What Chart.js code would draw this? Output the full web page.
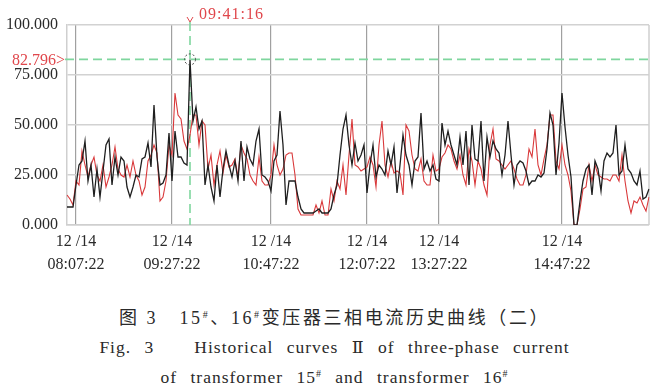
<!DOCTYPE html>
<html>
<head>
<meta charset="utf-8">
<script src="https://cdn.jsdelivr.net/npm/chart.js@4/dist/chart.umd.min.js"></script>
<style>
  html, body { margin: 0; padding: 0; background: #fff; }
  #wrap { position: relative; width: 669px; height: 391px; overflow: hidden; }
  #chart { position: absolute; left: 0; top: 0; }
  .cap {
    position: absolute; left: 0; width: 669px; text-align: center;
    font-family: "Liberation Serif", "Times New Roman", Times, "DejaVu Serif", "Noto Sans CJK SC", serif;
    font-size: 17px; line-height: 20px; color: #2a2a2a; white-space: nowrap;
  }
  .cap sup { font-size: 10px; vertical-align: 6px; line-height: 0; }
  .zh { font-size: 18px; letter-spacing: 2.6px; }
  .en { font-size: 17.5px; letter-spacing: 1px; word-spacing: 8px; }
</style>
</head>
<body>
<div id="wrap">
  <canvas id="chart" width="669" height="282"></canvas>
  <div class="cap zh" style="top:308px;">图 3&nbsp;&nbsp;&nbsp;15<sup>#</sup>、16<sup>#</sup>变压器三相电流历史曲线（二）</div>
  <div class="cap en" style="top:337px;">Fig. 3&nbsp;&nbsp; Historical curves Ⅱ of three-phase current</div>
  <div class="cap en" style="top:367px;">of transformer 15<sup>#</sup> and transformer 16<sup>#</sup></div>
</div>
<script>
// transformer 15# (black) and 16# (red) current samples
const current15 = [
  9, 9, 9, 20, 30, 32, 42, 22, 30, 14, 28, 14, 27, 40, 43, 20, 34, 25, 34, 32,
  19, 14, 19, 25, 24, 33, 34, 41, 29, 60, 34, 20,
  21, 25, 46, 22, 47, 34, 34, 31, 30, 82.796, 52, 59, 48, 52, 20, 30, 19, 12,
  30, 14, 28, 37, 30, 24, 32, 22, 42, 22, 39, 33, 30, 42, 48,
  25, 24, 22, 17, 32, 35, 57, 40, 10, 22, 22, 22, 14, 8, 6, 6, 6, 6, 7, 8,
  6, 6, 6, 8, 15, 20, 35, 48, 55, 40, 30, 41,
  32, 35, 40, 16, 30, 40, 24, 30, 28, 25, 37, 30, 39, 16, 30, 45, 35, 30, 20, 32,
  34, 56, 28, 32, 27, 30, 23, 22, 51, 40, 47, 40, 35,
  30, 44, 30, 47, 20, 50, 33, 32, 52, 22, 44, 34, 42, 38, 36, 25, 35, 52, 35, 20,
  30, 32, 31, 27, 20, 22, 22, 25, 24, 26, 38, 56, 50,
  25, 41, 66, 49, 35, 24, 0, 0, 12, 22, 28, 30, 15, 32, 28, 17, 32, 36, 34, 36,
  50, 25, 27, 40, 28, 26, 22, 20, 27, 13, 14, 18
];
const current16 = [
  15, 13, 10, 22, 20, 37, 30, 24, 30, 34, 25, 22, 30, 19, 24, 30, 39, 28, 25, 24,
  30, 24, 32, 25, 22, 15, 19, 32, 35, 40, 36, 12,
  14, 22, 40, 35, 66, 55, 53, 42, 38, 45, 55, 55, 40, 52, 50, 28, 35, 20, 30, 37,
  26, 35, 29, 30, 33, 24, 40, 36, 33, 25, 22, 20, 34,
  22, 20, 20, 25, 40, 30, 25, 28, 35, 36, 36, 25, 8, 5, 5, 5, 5, 5, 10, 6,
  12, 5, 5, 18, 12, 22, 18, 30, 15, 35, 53, 30,
  29, 27, 28, 29, 34, 30, 19, 40, 52, 30, 24, 32, 26, 27, 26, 15, 50, 47, 35, 28,
  27, 33, 22, 20, 20, 35, 27, 28, 34, 36, 40, 38, 32,
  28, 35, 25, 20, 38, 32, 20, 32, 28, 20, 15, 40, 48, 33, 32, 30, 28, 30, 32, 28,
  23, 20, 20, 25, 38, 34, 48, 30, 25, 33, 40, 55, 55,
  32, 28, 40, 30, 25, 17, 0, 0, 8, 18, 19, 30, 22, 30, 25, 24, 23, 23, 22, 25,
  25, 22, 35, 22, 12, 6, 12, 11, 14, 10, 7, 14
];

// time axis labels and the sample they sit on
const tickDates = ['12 /14', '12 /14', '12 /14', '12 /14', '12 /14', '12 /14'];
const tickTimes = ['08:07:22', '09:27:22', '10:47:22', '12:07:22', '13:27:22', '14:47:22'];
const tickSamples = [3, 35, 68, 100, 124, 165];

// marked maximum
const peakSample = 41;
const peakValue = 82.796;
const peakTime = '09:41:16';

const yTicks = [0, 25, 50, 75, 100];

const serif = '"Liberation Serif", "Times New Roman", Times, "DejaVu Serif", serif';

const labels = current15.map((v, i) => {
  const k = tickSamples.indexOf(i);
  return k >= 0 ? [tickDates[k], tickTimes[k]] : '';
});

const markerPlugin = {
  id: 'marker',
  beforeDatasetsDraw(chart) {
    const { ctx, chartArea: a, scales: { x, y } } = chart;
    const px = x.getPixelForValue(peakSample);
    const py = y.getPixelForValue(peakValue);
    ctx.save();
    // right frame edge
    ctx.strokeStyle = '#cfcfcf';
    ctx.lineWidth = 1.5;
    ctx.beginPath();
    ctx.moveTo(a.right, a.top);
    ctx.lineTo(a.right, a.bottom);
    ctx.stroke();
    // green guide lines
    ctx.strokeStyle = '#7fd69e';
    ctx.lineWidth = 1.6;
    ctx.setLineDash([9, 5]);
    ctx.beginPath();
    ctx.moveTo(a.left - 2, py);
    ctx.lineTo(a.right, py);
    ctx.stroke();
    ctx.beginPath();
    ctx.moveTo(px, a.top - 3);
    ctx.lineTo(px, a.bottom);
    ctx.stroke();
    ctx.restore();
  },
  afterDatasetsDraw(chart) {
    const { ctx, chartArea: a, scales: { x, y } } = chart;
    const px = x.getPixelForValue(peakSample);
    const py = y.getPixelForValue(peakValue);
    ctx.save();
    // dotted ring round the peak
    ctx.strokeStyle = '#444';
    ctx.lineWidth = 1;
    ctx.setLineDash([2, 2]);
    ctx.beginPath();
    ctx.arc(px, py, 5.5, 0, Math.PI * 2);
    ctx.stroke();
    ctx.setLineDash([]);
    // small arrow over the time mark
    ctx.strokeStyle = '#e0474c';
    ctx.beginPath();
    ctx.moveTo(px - 3, a.top - 8);
    ctx.lineTo(px, a.top - 3);
    ctx.lineTo(px + 3, a.top - 8);
    ctx.stroke();
    ctx.fillStyle = '#e0474c';
    ctx.font = '16px ' + serif;
    ctx.textBaseline = 'middle';
    ctx.letterSpacing = '1px';
    ctx.textAlign = 'left';
    ctx.fillText(peakTime, px + 9, 15);
    ctx.letterSpacing = '0px';
    ctx.textAlign = 'right';
    ctx.fillText(peakValue.toFixed(3) + '>', a.left - 2, py + 1);
    ctx.restore();
  }
};

Chart.defaults.font.family = serif;
Chart.defaults.color = '#2a2a2a';

new Chart(document.getElementById('chart'), {
  type: 'line',
  data: {
    labels: labels,
    datasets: [
      {
        label: '15#',
        data: current15,
        borderColor: '#1f1f1f',
        borderWidth: 1.3,
        pointRadius: 0,
        tension: 0
      },
      {
        label: '16#',
        data: current16,
        borderColor: '#d9383a',
        borderWidth: 1.1,
        pointRadius: 0,
        tension: 0
      }
    ]
  },
  options: {
    responsive: false,
    animation: false,
    layout: { padding: { top: 25, right: 20, left: 0, bottom: 0 } },
    plugins: {
      legend: { display: false },
      tooltip: { enabled: false }
    },
    scales: {
      x: {
        type: 'category',
        offset: false,
        afterFit: (axis) => { axis.height = 57; },
        grid: {
          drawTicks: false,
          color: (c) => (tickSamples.includes(c.index) ? '#a0a0a0' : 'rgba(0,0,0,0)'),
          lineWidth: 1.2
        },
        border: { display: true, color: '#cfcfcf', width: 1.5 },
        ticks: {
          autoSkip: false,
          maxRotation: 0,
          padding: 6,
          font: { size: 16, lineHeight: 1.4 },
          color: '#2a2a2a'
        }
      },
      y: {
        min: 0,
        max: 100,
        afterFit: (axis) => { axis.width = 67; },
        afterBuildTicks: (axis) => { axis.ticks = yTicks.map(v => ({ value: v })); },
        grid: { drawTicks: false, color: '#d2d2d2', lineWidth: 1.5 },
        border: { display: true, color: '#cfcfcf', width: 1.5 },
        ticks: {
          padding: 9,
          font: { size: 16 },
          color: '#2a2a2a',
          callback: (v) => v.toFixed(3)
        }
      }
    }
  },
  plugins: [markerPlugin]
});
</script>
</body>
</html>
